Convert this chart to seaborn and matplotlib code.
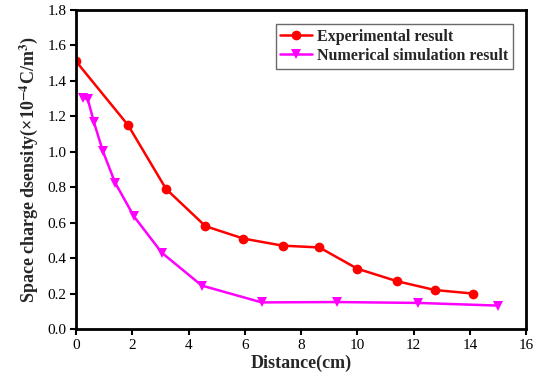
import pandas as pd
import matplotlib.pyplot as plt
import seaborn as sns

# Experimental result
exp_x = [0.0, 1.85, 3.2, 4.6, 5.95, 7.35, 8.65, 10.0, 11.4, 12.75, 14.1]
exp_y = [1.51, 1.15, 0.79, 0.58, 0.51, 0.47, 0.46, 0.34, 0.27, 0.22, 0.20]

# Numerical simulation result
sim_x = [0.25, 0.42, 0.64, 0.95, 1.39, 2.06, 3.05, 4.47, 6.6, 9.28, 12.17, 15.0]
sim_y = [1.305, 1.295, 1.165, 1.005, 0.825, 0.635, 0.43, 0.245, 0.15, 0.152, 0.147, 0.132]

labels = ['Experimental result', 'Numerical simulation result']

df = pd.concat([
    pd.DataFrame({'x': exp_x, 'y': exp_y, 'series': labels[0]}),
    pd.DataFrame({'x': sim_x, 'y': sim_y, 'series': labels[1]}),
])

sns.set_style('ticks')
plt.rcParams['font.family'] = ['Liberation Serif', 'DejaVu Serif']
plt.rcParams['mathtext.fontset'] = 'stix'

fig = plt.figure(figsize=(5.43, 3.81), dpi=100)
ax = fig.add_axes([0.14, 0.1365, 0.829, 0.8375])

sns.lineplot(data=df, x='x', y='y', hue='series', style='series',
             palette={labels[0]: '#ff0000', labels[1]: '#ff00ff'},
             markers={labels[0]: 'o', labels[1]: 'v'},
             dashes=False, sort=False, linewidth=1.8, markersize=7,
             markeredgewidth=0, ax=ax)

ax.set_xlim(0, 16)
ax.set_ylim(0, 1.8)
ax.set_xticks(range(0, 17, 2))
ax.set_yticks([i / 10 for i in range(0, 19, 2)])
ax.set_yticklabels([f'{i / 10:.1f}' for i in range(0, 19, 2)])
ax.tick_params(axis='both', labelsize=11, width=1.5, length=4, direction='out',
               colors='black', pad=3)

for s in ax.spines.values():
    s.set_linewidth(2)
    s.set_color('black')

ax.set_xlabel('Distance(cm)', fontsize=13, fontweight='bold', labelpad=2)
ax.set_ylabel('Space charge dsensity(×10$^{\\mathbf{-4}}$C/m$^{\\mathbf{3}}$)', fontsize=13,
              fontweight='bold', labelpad=5)

leg = ax.legend(loc='upper right', bbox_to_anchor=(0.971, 0.956), frameon=True, fancybox=False,
                prop={'weight': 'bold', 'size': 11.5}, handlelength=2.0, borderpad=0.3,
                labelspacing=0.2, handletextpad=0.3, borderaxespad=0)
leg.get_frame().set_edgecolor('#444444')
leg.get_frame().set_linewidth(1)

fig.savefig('out.png', dpi=100)
